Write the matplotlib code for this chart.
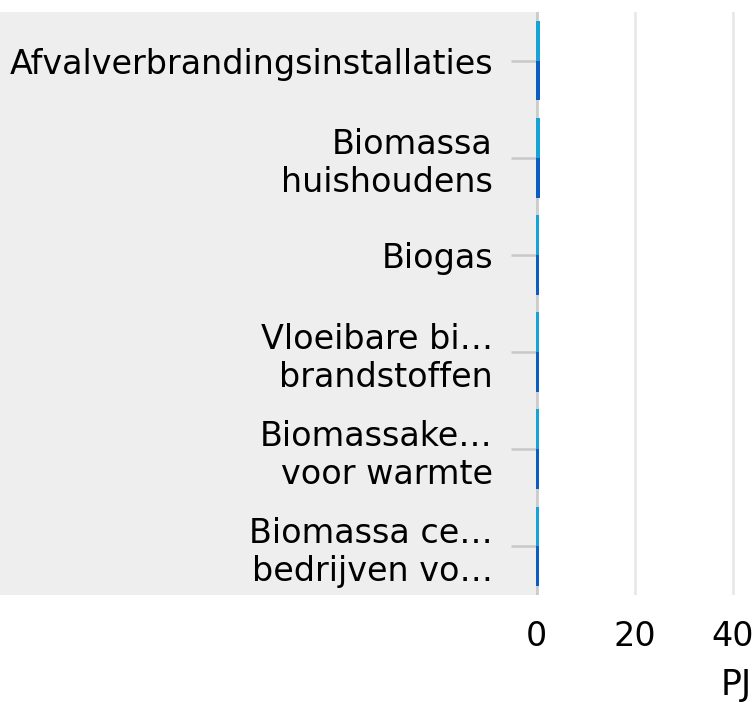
import matplotlib.pyplot as plt
from matplotlib.patches import Rectangle
import numpy as np

# categories (labels as shown, truncated in the original)
categories = [
    "Afvalverbrandingsinstallaties",
    "Biomassa\nhuishoudens",
    "Biogas",
    "Vloeibare bi\u2026\nbrandstoffen",
    "Biomassake\u2026\nvoor warmte",
    "Biomassa ce\u2026\nbedrijven vo\u2026",
]

# two series per category (PJ)
series_light = [0.8, 0.75, 0.6, 0.6, 0.6, 0.6]
series_dark = [0.8, 0.8, 0.6, 0.6, 0.6, 0.6]

x_ticks = [0, 20, 40]

W, H = 755, 702
fig = plt.figure(figsize=(W / 100, H / 100), dpi=100)

# grey panel behind the category labels
fig.patches.append(Rectangle((0, 1 - 595 / H), 538 / W, 583 / H,
                             transform=fig.transFigure, facecolor='#eeeeee',
                             edgecolor='none', zorder=0))

px_per_pj = 98.5 / 20
x0 = 536
ax = fig.add_axes([x0 / W, 1 - 595 / H, 60 * px_per_pj / W, 583 / H])
ax.set_zorder(2)
ax.patch.set_visible(False)

y_pos = np.arange(len(categories))
h = 0.41
ax.barh(y_pos - h / 2, series_light, height=h, color='#16a4d6',
        edgecolor='none', zorder=3)
ax.barh(y_pos + h / 2, series_dark, height=h, color='#0b5dc3',
        edgecolor='none', zorder=3)

ax.set_xlim(0, 60)
ax.set_ylim(len(categories) - 0.5, -0.5)

for v in x_ticks[1:]:
    ax.axvline(v, color='#e6e6e6', lw=1.8, zorder=1)
ax.axvline(-0.1, color='#cccccc', lw=4.2, zorder=2)

for s in ax.spines.values():
    s.set_visible(False)

ax.set_yticks(y_pos, labels=categories)
ax.tick_params(axis='y', length=18, width=1.8, color='#c8c8c8', pad=13,
               labelsize=24)
ax.set_xticks(x_ticks)
ax.tick_params(axis='x', length=0, pad=18, labelsize=24)

fig.text(736 / W, 1 - 685 / H, "PJ", fontsize=25, ha='center', va='center')

fig.savefig("out.png", dpi=100)
